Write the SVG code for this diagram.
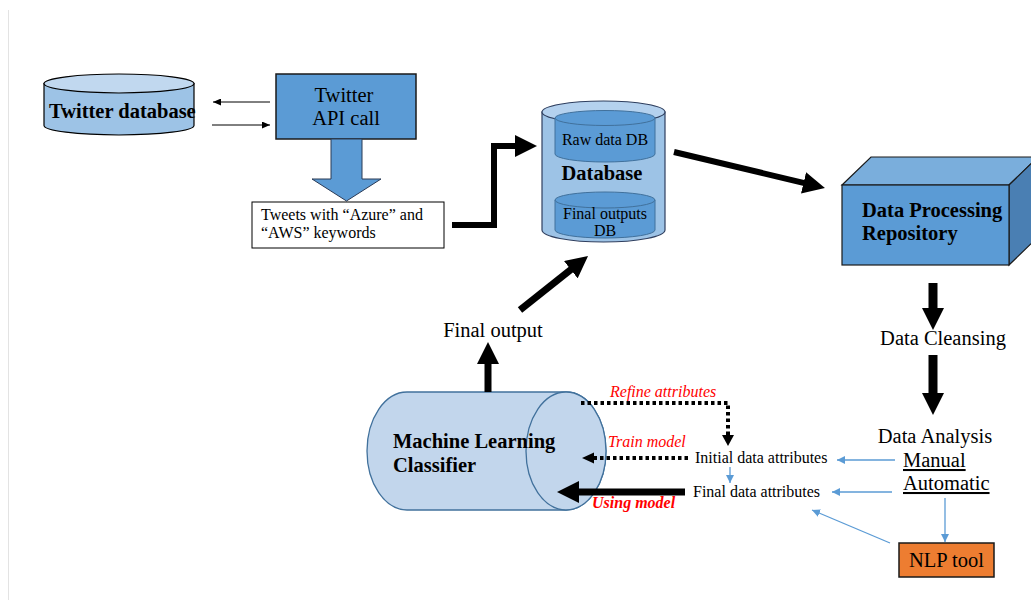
<svg xmlns="http://www.w3.org/2000/svg" width="1031" height="606" viewBox="0 0 1031 606">
<style>
text{font-family:"Liberation Serif","Times New Roman",serif;fill:#000}
.t20{font-size:20.5px}
.b20{font-size:20.5px;font-weight:bold}
.t16{font-size:16px}
.red{font-size:16px;font-style:italic;fill:#ff0000}
.thick{stroke:#000;fill:none}
.blue{stroke:#5b9bd5;stroke-width:1.3;fill:none;marker-end:url(#bh)}
.thin{stroke:#000;stroke-width:1;fill:none;marker-end:url(#kh)}
.dot{stroke:#000;stroke-width:4;stroke-dasharray:3.5 3;fill:none}
</style>
<defs>
<marker id="big" markerUnits="userSpaceOnUse" markerWidth="22" markerHeight="22" refX="1" refY="11" orient="auto"><path d="M0,0 L22,11 L0,22 z" fill="#000"/></marker>
<marker id="bh" markerUnits="userSpaceOnUse" markerWidth="8" markerHeight="8" refX="8" refY="4" orient="auto"><path d="M0,0 L8,4 L0,8 z" fill="#5b9bd5"/></marker>
<marker id="kh" markerUnits="userSpaceOnUse" markerWidth="8" markerHeight="7" refX="8" refY="3.5" orient="auto"><path d="M0,0 L8,3.5 L0,7 z" fill="#000"/></marker>
</defs>
<rect width="1031" height="606" fill="#fff"/>
<line x1="8.5" y1="10" x2="8.5" y2="600" stroke="#e3e3e3" stroke-width="1"/>

<g id="twitter-database">
<path d="M44,83.5 L44,125.5 A75,9.5 0 0 0 194,125.5 L194,83.5 Z" fill="#9dc3e6" stroke="#000" stroke-width="1.2"/>
<ellipse cx="119" cy="83.5" rx="75" ry="9.5" fill="#c1d8ef" stroke="#000" stroke-width="1.2"/>
<text class="b20" x="49" y="118">Twitter database</text>
</g>

<g id="twitter-api-call">
<rect x="276" y="74" width="140" height="65" fill="#5b9bd5" stroke="#1a1a1a" stroke-width="1.5"/>
<text class="t20" x="344" y="102" text-anchor="middle">Twitter</text>
<text class="t20" x="346" y="125" text-anchor="middle">API call</text>
<polygon points="331,139 362,139 362,179 381,179 346.5,201 312,179 331,179" fill="#5b9bd5" stroke="#2a3a55" stroke-width="1"/>
</g>

<g id="tweets">
<rect x="252" y="202" width="192" height="46" fill="#fff" stroke="#000" stroke-width="1"/>
<text class="t16" x="261" y="220">Tweets with “Azure” and</text>
<text class="t16" x="261" y="238">“AWS” keywords</text>
</g>

<g id="database">
<path d="M542,112 L542,230 A61.5,12 0 0 0 665,230 L665,112 Z" fill="#9dc3e6" stroke="#2f3f5f" stroke-width="1.2"/>
<ellipse cx="603.5" cy="112" rx="61.5" ry="11" fill="#b4d1ee" stroke="#2f3f5f" stroke-width="1.2"/>
<path d="M555,118 L555,154 A50,8 0 0 0 655,154 L655,118 Z" fill="#5b9bd5" stroke="#41719c" stroke-width="1"/>
<ellipse cx="605" cy="118" rx="50" ry="7.5" fill="#5b9bd5" stroke="#41719c" stroke-width="1"/>
<text class="t16" x="605" y="145" text-anchor="middle">Raw data DB</text>
<text class="b20" x="602" y="180" text-anchor="middle">Database</text>
<path d="M555,200 L555,230 A50,8 0 0 0 655,230 L655,200 Z" fill="#5b9bd5" stroke="#41719c" stroke-width="1"/>
<ellipse cx="605" cy="200" rx="50" ry="8" fill="#5b9bd5" stroke="#41719c" stroke-width="1"/>
<text class="t16" x="605" y="219" text-anchor="middle">Final outputs</text>
<text class="t16" x="605" y="236" text-anchor="middle">DB</text>
</g>

<g id="data-processing-repository">
<polygon points="842,185 871,157 1038,157 1009,185" fill="#7aaedc" stroke="#1a1a1a" stroke-width="1.2"/>
<polygon points="1009,185 1038,157 1038,237 1009,265" fill="#4a7fb3" stroke="#1a1a1a" stroke-width="1.2"/>
<rect x="842" y="185" width="167" height="80" fill="#5b9bd5" stroke="#1a1a1a" stroke-width="1.2"/>
<text class="b20" x="862" y="217">Data Processing</text>
<text class="b20" x="862" y="240">Repository</text>
</g>

<g id="data-cleansing">
<text class="t20" x="943" y="345" text-anchor="middle">Data Cleansing</text>
</g>

<g id="data-analysis">
<text class="t20" x="935" y="443" text-anchor="middle">Data Analysis</text>
<text class="t20" x="903" y="467" text-decoration="underline">Manual</text>
<text class="t20" x="903" y="490" text-decoration="underline">Automatic</text>
</g>

<g id="nlp-tool">
<rect x="899" y="543" width="95" height="34" fill="#ed7d31" stroke="#1a1a1a" stroke-width="1.5"/>
<text class="t20" x="946.5" y="567" text-anchor="middle">NLP tool</text>
</g>

<g id="initial-data-attributes">
<text class="t16" x="695" y="463">Initial data attributes</text>
</g>
<g id="final-data-attributes">
<text class="t16" x="693" y="497">Final data attributes</text>
</g>

<g id="ml-classifier">
<path d="M407,392 L566,392 A40,59 0 0 1 566,510 L407,510 A40,59 0 0 1 407,392 Z" fill="#c2d6ec" stroke="#41719c" stroke-width="1.3"/>
<ellipse cx="566" cy="451" rx="40" ry="59" fill="#c2d6ec" stroke="#41719c" stroke-width="1.3"/>
<text class="b20" x="393" y="448">Machine Learning</text>
<text class="b20" x="393" y="472">Classifier</text>
</g>

<g id="final-output">
<text class="t20" x="493" y="337" text-anchor="middle">Final output</text>
</g>

<g id="connectors">
<line class="thin" x1="270" y1="102" x2="213" y2="102"/>
<line class="thin" x1="212" y1="125" x2="270" y2="125"/>
<polyline class="thick" stroke-width="6" points="452,225 494,225 494,146 516,146" marker-end="url(#big)"/>
<line class="thick" stroke-width="6" x1="674" y1="152" x2="804.5" y2="183.1" marker-end="url(#big)"/>
<line class="thick" stroke-width="9" x1="933" y1="283" x2="933" y2="309" marker-end="url(#big)"/>
<line class="thick" stroke-width="9" x1="933" y1="355" x2="933" y2="394" marker-end="url(#big)"/>
<line class="thick" stroke-width="7" x1="488" y1="392" x2="488" y2="363" marker-end="url(#big)"/>
<line class="thick" stroke-width="7" x1="520" y1="310" x2="571.6" y2="269.1" marker-end="url(#big)"/>
<line class="thick" stroke-width="7" x1="685" y1="492" x2="578" y2="492" marker-end="url(#big)"/>
<polyline class="dot" points="581,403 728,403 728,436"/>
<polygon points="722,435 734,435 728,446" fill="#000"/>
<line class="dot" x1="688" y1="458" x2="594" y2="458"/>
<polygon points="594,452.5 594,463.5 582,458" fill="#000"/>
<line class="blue" x1="895" y1="460" x2="837" y2="460"/>
<line class="blue" x1="892" y1="492" x2="832" y2="492"/>
<line class="blue" x1="730" y1="467" x2="730" y2="483"/>
<line class="blue" x1="945" y1="498" x2="945" y2="542"/>
<line class="blue" x1="890" y1="543" x2="812" y2="510"/>
<text class="red" x="610" y="397">Refine attributes</text>
<text class="red" x="608" y="447">Train model</text>
<text class="red" x="592" y="508" font-weight="bold">Using model</text>
</g>
</svg>
